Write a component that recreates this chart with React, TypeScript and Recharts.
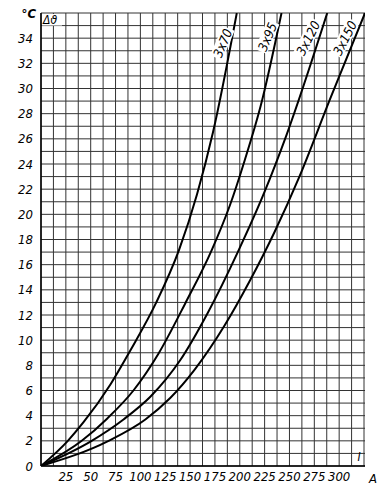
import React from 'react';
import { LineChart, Line, XAxis, YAxis, CartesianGrid, ReferenceDot } from 'recharts';

// heating curves, cable sections 3x70 .. 3x150 (current in A, temperature rise in °C)
const I_70 = [0, 27, 43, 70, 90, 116, 139, 157, 173, 197];
const T_70 = [0, 2, 3.5, 6.5, 9.2, 13, 17.2, 21.6, 26.5, 36];

const I_95 = [0, 41, 67, 93, 118, 145, 172, 190, 205, 221, 242];
const T_95 = [0, 2, 3.8, 6, 8.9, 12.9, 17.2, 20.7, 24.3, 28.6, 36];

const I_120 = [0, 51, 83, 110, 140, 168, 198, 225, 247, 288];
const T_120 = [0, 2, 3.7, 5.5, 8.4, 12.2, 17, 21.8, 26.3, 36];

const I_150 = [0, 68, 105, 130, 155, 185, 210, 235, 260, 291, 326];
const T_150 = [0, 2, 3.7, 5.4, 7.7, 11.2, 14.7, 18.6, 23, 29.2, 36];

const SERIES_NAMES = ['3x70', '3x95', '3x120', '3x150'];
// where the rotated name sits (I, Δϑ) and its angle
const LABEL_I = [183, 228, 269, 306];
const LABEL_T = [33.6, 34.1, 34, 34];
const LABEL_ANGLE = [-67, -67, -63, -63];

const X_TICKS = [25, 50, 75, 100, 125, 150, 175, 200, 225, 250, 275, 300];
const Y_TICKS = [0, 2, 4, 6, 8, 10, 12, 14, 16, 18, 20, 22, 24, 26, 28, 30, 32, 34];

const X_MAX = 326;
const Y_MAX = 36;

// fine grid: every 12.5 A and every 1 °C
const GRID_V = Array.from({ length: 27 }, (_, k) => Math.min(k * 12.5, X_MAX));
const GRID_H = Array.from({ length: 37 }, (_, k) => k);

const FONT = "'DejaVu Sans Condensed', 'Liberation Sans Narrow', 'DejaVu Sans', sans-serif";

const toPoints = (xs: number[], ys: number[]) => xs.map((i, k) => ({ i, t: ys[k] }));

const series = [
    toPoints(I_70, T_70),
    toPoints(I_95, T_95),
    toPoints(I_120, T_120),
    toPoints(I_150, T_150),
];

const vGrid = ({ offset }: any) => GRID_V.map(v => offset.left + (v / X_MAX) * offset.width);
const hGrid = ({ offset }: any) => GRID_H.map(v => offset.top + offset.height - (v / Y_MAX) * offset.height);

const CurveName = (name: string, angle: number) => (props: any) => {
    const { cx, cy } = props;
    const w = name.length * 7 + 4;
    return (
        <g transform={`translate(${cx},${cy}) rotate(${angle})`}>
            <rect x={-w / 2} y={-7} width={w} height={13} fill="#fff" />
            <text x={0} y={4.5} textAnchor="middle" fontSize={13} fontStyle="italic" fontFamily={FONT} fill="#000">
                {name}
            </text>
        </g>
    );
};

const CornerLabels = (props: any) => {
    const { cx, cy } = props;
    return (
        <g>
            <text x={cx - 5} y={cy + 5} textAnchor="end" fontSize={13} fontStyle="italic" fontWeight="bold" fontFamily={FONT} fill="#000">°C</text>
            <rect x={cx + 1} y={cy + 1} width={20} height={11.5} fill="#fff" />
            <text x={cx + 2} y={cy + 11} fontSize={12} fontStyle="italic" fontFamily={FONT} fill="#000">Δϑ</text>
        </g>
    );
};

const UnitI = (props: any) => {
    const { cx, cy } = props;
    return (
        <text x={cx} y={cy} textAnchor="middle" fontSize={12} fontStyle="italic" fontFamily={FONT} fill="#000">I</text>
    );
};

const UnitA = (props: any) => {
    const { cx, cy } = props;
    return (
        <text x={cx + 8} y={cy + 17} textAnchor="middle" fontSize={13} fontStyle="italic" fontFamily={FONT} fill="#000">A</text>
    );
};

const tickStyle = { fill: '#000', fontSize: 13, fontStyle: 'italic', fontFamily: FONT };

export default function App() {
    return (
        <div style={{ position: 'absolute', left: 0, top: 0, background: '#fff' }}>
            <LineChart width={378} height={492} margin={{ top: 13, right: 13, left: 0, bottom: 0 }}>
                <CartesianGrid
                    stroke="#333"
                    strokeWidth={1}
                    verticalCoordinatesGenerator={vGrid}
                    horizontalCoordinatesGenerator={hGrid}
                />
                <XAxis
                    type="number"
                    dataKey="i"
                    domain={[0, X_MAX]}
                    ticks={X_TICKS}
                    allowDataOverflow
                    height={26}
                    tickSize={0}
                    tickMargin={6}
                    axisLine={{ stroke: '#000', strokeWidth: 1.5 }}
                    tick={tickStyle}
                />
                <YAxis
                    type="number"
                    dataKey="t"
                    domain={[0, Y_MAX]}
                    ticks={Y_TICKS}
                    allowDataOverflow
                    width={41}
                    tickSize={0}
                    tickMargin={8}
                    axisLine={{ stroke: '#000', strokeWidth: 1.5 }}
                    tick={tickStyle}
                />
                {series.map((data, k) => (
                    <Line
                        key={SERIES_NAMES[k]}
                        data={data}
                        dataKey="t"
                        type="monotone"
                        stroke="#000"
                        strokeWidth={2}
                        dot={false}
                        isAnimationActive={false}
                    />
                ))}
                {SERIES_NAMES.map((name, k) => (
                    <ReferenceDot
                        key={`lbl-${name}`}
                        x={LABEL_I[k]}
                        y={LABEL_T[k]}
                        r={0}
                        ifOverflow="visible"
                        shape={CurveName(name, LABEL_ANGLE[k])}
                    />
                ))}
                <ReferenceDot x={0} y={Y_MAX} r={0} ifOverflow="visible" shape={CornerLabels} />
                <ReferenceDot x={320} y={0.4} r={0} ifOverflow="visible" shape={UnitI} />
                <ReferenceDot x={X_MAX} y={0} r={0} ifOverflow="visible" shape={UnitA} />
            </LineChart>
        </div>
    );
}
